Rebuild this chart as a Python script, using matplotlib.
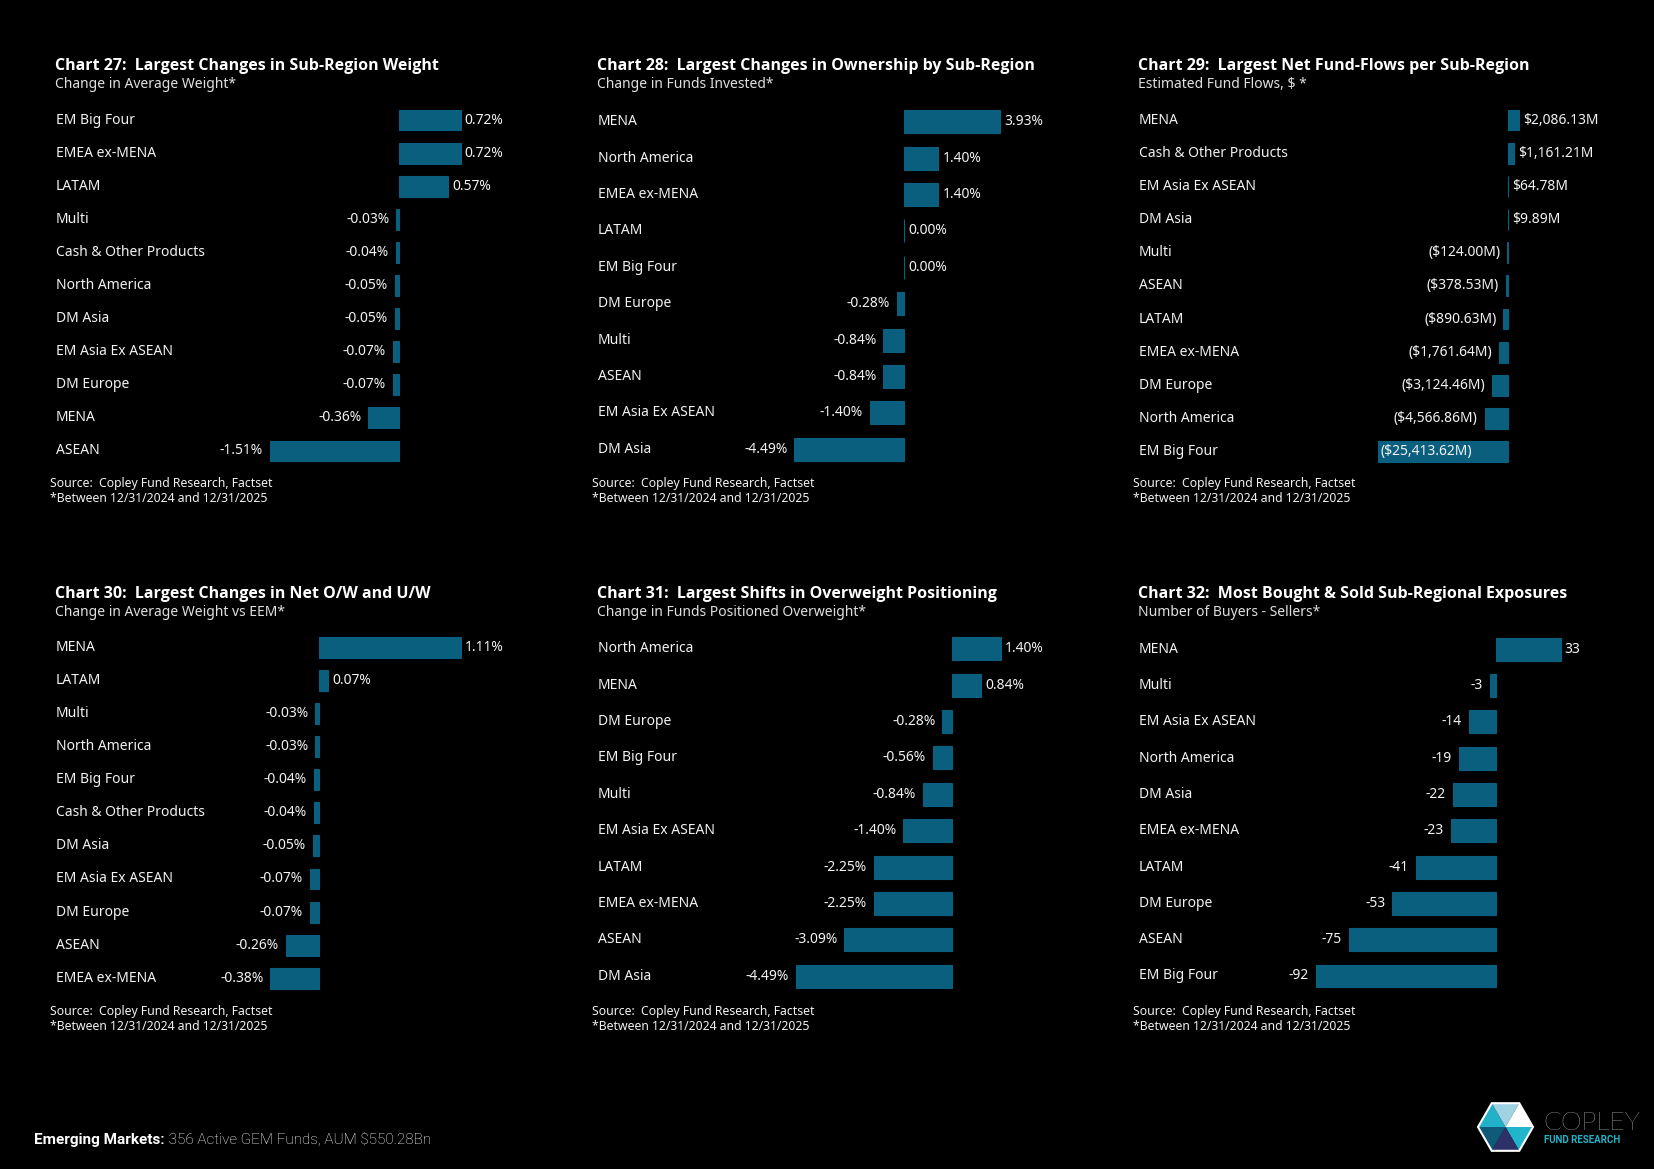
import matplotlib
matplotlib.use("Agg")
import matplotlib.pyplot as plt
from matplotlib.patches import Polygon

plt.rcParams["font.family"] = ["Noto Sans", "DejaVu Sans"]

# ---------------------------------------------------------------------------
# DATA
# ---------------------------------------------------------------------------
c27_cats = ["EM Big Four", "EMEA ex-MENA", "LATAM", "Multi", "Cash & Other Products",
            "North America", "DM Asia", "EM Asia Ex ASEAN", "DM Europe", "MENA", "ASEAN"]
c27_vals = [0.72, 0.72, 0.57, -0.03, -0.04, -0.05, -0.05, -0.07, -0.07, -0.36, -1.51]

c28_cats = ["MENA", "North America", "EMEA ex-MENA", "LATAM", "EM Big Four",
            "DM Europe", "Multi", "ASEAN", "EM Asia Ex ASEAN", "DM Asia"]
c28_vals = [3.93, 1.40, 1.40, 0.00, 0.00, -0.28, -0.84, -0.84, -1.40, -4.49]

c29_cats = ["MENA", "Cash & Other Products", "EM Asia Ex ASEAN", "DM Asia", "Multi",
            "ASEAN", "LATAM", "EMEA ex-MENA", "DM Europe", "North America", "EM Big Four"]
c29_vals = [2086.13, 1161.21, 64.78, 9.89, -124.00, -378.53, -890.63, -1761.64,
            -3124.46, -4566.86, -25413.62]

c30_cats = ["MENA", "LATAM", "Multi", "North America", "EM Big Four", "Cash & Other Products",
            "DM Asia", "EM Asia Ex ASEAN", "DM Europe", "ASEAN", "EMEA ex-MENA"]
c30_vals = [1.11, 0.07, -0.03, -0.03, -0.04, -0.04, -0.05, -0.07, -0.07, -0.26, -0.38]

c31_cats = ["North America", "MENA", "DM Europe", "EM Big Four", "Multi",
            "EM Asia Ex ASEAN", "LATAM", "EMEA ex-MENA", "ASEAN", "DM Asia"]
c31_vals = [1.40, 0.84, -0.28, -0.56, -0.84, -1.40, -2.25, -2.25, -3.09, -4.49]

c32_cats = ["MENA", "Multi", "EM Asia Ex ASEAN", "North America", "DM Asia",
            "EMEA ex-MENA", "LATAM", "DM Europe", "ASEAN", "EM Big Four"]
c32_vals = [33, -3, -14, -19, -22, -23, -41, -53, -75, -92]

titles = ["Chart 27:  Largest Changes in Sub-Region Weight",
          "Chart 28:  Largest Changes in Ownership by Sub-Region",
          "Chart 29:  Largest Net Fund-Flows per Sub-Region",
          "Chart 30:  Largest Changes in Net O/W and U/W",
          "Chart 31:  Largest Shifts in Overweight Positioning",
          "Chart 32:  Most Bought & Sold Sub-Regional Exposures"]
subtitles = ["Change in Average Weight*", "Change in Funds Invested*",
             "Estimated Fund Flows, $ *", "Change in Average Weight vs EEM*",
             "Change in Funds Positioned Overweight*", "Number of Buyers - Sellers*"]


def fmt_pct(v):
    return f"{v:.2f}%"


def fmt_usd(v):
    return f"${v:,.2f}M" if v >= 0 else f"(${abs(v):,.2f}M)"


def fmt_int(v):
    return f"{v:d}"


# ---------------------------------------------------------------------------
# LAYOUT (pixels on a 1654 x 1169 canvas)
# ---------------------------------------------------------------------------
W, H = 1654, 1169
BAR = "#0b5f7e"
TXT = "#f2f2f2"
col_x = [56, 598, 1139]
row_title_y = [66, 594]
row_source_y = [483, 1011]

# zero line x, px per unit, first row centre y, row spacing, label column
panels = [
    dict(cats=c27_cats, vals=c27_vals, fmt=fmt_pct, zero=399, scale=85.5, y0=120, dy=33.1, col=0),
    dict(cats=c28_cats, vals=c28_vals, fmt=fmt_pct, zero=904, scale=24.45, y0=121.7, dy=36.4, col=1),
    dict(cats=c29_cats, vals=c29_vals, fmt=fmt_usd, zero=1508, scale=0.00512, y0=120, dy=33.17, col=2,
         inside=10),
    dict(cats=c30_cats, vals=c30_vals, fmt=fmt_pct, zero=319, scale=128.0, y0=647.3, dy=33.1, col=0),
    dict(cats=c31_cats, vals=c31_vals, fmt=fmt_pct, zero=952, scale=34.8, y0=648.7, dy=36.4, col=1),
    dict(cats=c32_cats, vals=c32_vals, fmt=fmt_int, zero=1496, scale=1.96, y0=649.3, dy=36.3, col=2),
]

fig = plt.figure(figsize=(W / 100, H / 100), dpi=100, facecolor="black")

# background axes in pixel coordinates for titles, notes, footer and logo
bg = fig.add_axes([0, 0, 1, 1])
bg.set_xlim(0, W)
bg.set_ylim(H, 0)
bg.axis("off")
bg.set_facecolor("black")

for k, p in enumerate(panels):
    row, col = divmod(k, 3)
    n = len(p["cats"])
    xa, xb = p["zero"] - 320, p["zero"] + 200
    ytop = p["y0"] - p["dy"] / 2
    ybot = p["y0"] + (n - 0.5) * p["dy"]
    ax = fig.add_axes([xa / W, 1 - ybot / H, (xb - xa) / W, (ybot - ytop) / H])
    ax.set_xlim((xa - p["zero"]) / p["scale"], (xb - p["zero"]) / p["scale"])
    ax.set_ylim(n - 0.5, -0.5)
    ax.axis("off")
    ax.patch.set_alpha(0)

    ys = list(range(n))
    # thin edge keeps near-zero bars visible as a hairline, as in the original
    ax.barh(ys, p["vals"], height=0.63, color=BAR, edgecolor=BAR, linewidth=0.8)

    lab_x = (col_x[col] - xa) / (xb - xa)
    tr = ax.get_yaxis_transform()
    for i, (c, v) in enumerate(zip(p["cats"], p["vals"])):
        ax.text(lab_x, i, c, transform=tr, ha="left", va="center",
                fontsize=10, color=TXT, clip_on=False)
        label = p["fmt"](v)
        if p.get("inside") == i:
            ax.annotate(label, (v, i), xytext=(2, 0), textcoords="offset points",
                        ha="left", va="center", fontsize=10, color=TXT)
        elif v >= 0:
            ax.annotate(label, (v, i), xytext=(3, 0), textcoords="offset points",
                        ha="left", va="center", fontsize=10, color=TXT)
        else:
            ax.annotate(label, (v, i), xytext=(-5, 0), textcoords="offset points",
                        ha="right", va="center", fontsize=10, color=TXT)

    tx = col_x[col] - 1
    ty = row_title_y[row]
    bg.text(tx, ty, titles[k], ha="left", va="center", fontsize=11.5,
            fontweight="bold", color="white", family=["Open Sans", "DejaVu Sans"])
    bg.text(tx, ty + 18.5, subtitles[k], ha="left", va="center", fontsize=10, color="#e0e0e0")
    sy = row_source_y[row]
    bg.text(tx - 5, sy, "Source:  Copley Fund Research, Factset", ha="left", va="center",
            fontsize=8.8, color=TXT)
    bg.text(tx - 5, sy + 15.5, "*Between 12/31/2024 and 12/31/2025", ha="left", va="center",
            fontsize=8.8, color=TXT)

# footer
ft = bg.text(34, 1140, "Emerging Markets:", ha="left", va="center", fontsize=11,
             fontweight="bold", color="white", family="Roboto")
bg.annotate(" 356 Active GEM Funds, AUM $550.28Bn", xy=(1, 0.5), xycoords=ft,
            ha="left", va="center", fontsize=11, color="white", family="Roboto",
            fontweight="light")

# logo: flat-topped hexagon split into six triangles
cx, cy, r = 1505.5, 1127, 27.5
hh = r * 3 ** 0.5 / 2
pts = [(cx - r, cy), (cx - r / 2, cy - hh), (cx + r / 2, cy - hh),
       (cx + r, cy), (cx + r / 2, cy + hh), (cx - r / 2, cy + hh)]
tri_colors = ["#21b2c9", "#9fd3e3", "#ffffff", "#21b5cc", "#2e3168", "#0f5a78"]
for j, colr in enumerate(tri_colors):
    bg.add_patch(Polygon([(cx, cy), pts[j], pts[(j + 1) % 6]], closed=True,
                         facecolor=colr, edgecolor="none"))
bg.add_patch(Polygon(pts, closed=True, facecolor="none", edgecolor="white", lw=1.5))
bg.text(1543, 1123, "COPLEY", ha="left", va="center", fontsize=19,
        family="Lato", fontweight="light", color="white")
bg.text(1544, 1140, "FUND RESEARCH", ha="left", va="center", fontsize=7,
        family="Roboto", fontweight="bold", color="#1fb3c8")

fig.savefig("out.png", dpi=100, facecolor="black")
